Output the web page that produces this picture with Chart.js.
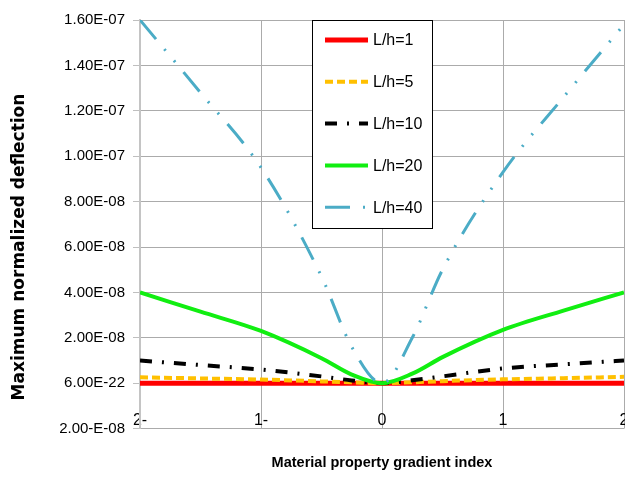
<!DOCTYPE html>
<html>
<head>
<meta charset="utf-8">
<script src="https://cdn.jsdelivr.net/npm/chart.js@4"></script>
<style>
  html, body { margin: 0; padding: 0; background: #fff; }
</style>
</head>
<body>
<canvas id="myChart" width="625" height="477"></canvas>
<script>
// gradient index n (x) and deflection of each L/h series
const indexValues = [-2, -1.5, -1, -0.5, -0.25, 0, 0.25, 0.5, 1, 1.5, 2];
const seriesNames = ['L/h=1', 'L/h=5', 'L/h=10', 'L/h=20', 'L/h=40'];
const lh1 = [0, 0, 0, 0, 0, 0, 0, 0, 0, 0, 0];
const lh5 = [0.26e-8, 0.21e-8, 0.16e-8, 0.08e-8, 0.04e-8, 0, 0.04e-8, 0.09e-8, 0.17e-8, 0.22e-8, 0.28e-8];
const lh10 = [1.0e-8, 0.8e-8, 0.6e-8, 0.3e-8, 0.12e-8, 0, 0.13e-8, 0.3e-8, 0.65e-8, 0.83e-8, 1.0e-8];
const lh20 = [4.0e-8, 3.15e-8, 2.3e-8, 1.1e-8, 0.38e-8, 0, 0.42e-8, 1.15e-8, 2.35e-8, 3.2e-8, 4.0e-8];
const lh40 = [16.0e-8, 12.8e-8, 9.5e-8, 4.7e-8, 1.6e-8, 0, 2.0e-8, 5.0e-8, 9.3e-8, 12.6e-8, 15.8e-8];

const xTickLabels = ['2-', '1-', '0', '1', '2'];
const yTickLabels = ['2.00-E-08', '6.00E-22', '2.00E-08', '4.00E-08', '6.00E-08',
  '8.00E-08', '1.00E-07', '1.20E-07', '1.40E-07', '1.60E-07'];

const sans = "'Liberation Sans', Arial, sans-serif";

const styles = [
  { color: '#ff0000', width: 5, dash: [] },
  { color: '#ffc000', width: 4, dash: [8, 4] },
  { color: '#000000', width: 4, dash: [12, 10, 2, 10] },
  { color: '#11ee11', width: 4, dash: [] },
  { color: '#4bacc6', width: 3, dash: [25, 13, 2, 13, 2, 13] }
];
const series = [lh1, lh5, lh10, lh20, lh40];

const datasets = series.map((vals, i) => ({
  label: seriesNames[i],
  data: vals.map((v, j) => ({ x: indexValues[j], y: v })),
  borderColor: styles[i].color,
  borderWidth: styles[i].width,
  borderDash: styles[i].dash,
  borderCapStyle: 'butt',
  pointRadius: 0,
  fill: false,
  cubicInterpolationMode: 'monotone',
  order: series.length - i
}));

// boxed legend inside the plot + rotated y title
const extras = {
  id: 'extras',
  afterDraw(chart) {
    const ctx = chart.ctx;
    ctx.save();
    ctx.translate(20, 247);
    ctx.rotate(-Math.PI / 2);
    ctx.fillStyle = '#000';
    ctx.font = "bold 17px 'DejaVu Sans', sans-serif";
    ctx.textAlign = 'center';
    ctx.textBaseline = 'middle';
    ctx.fillText('Maximum normalized deflection', 0, 0);
    ctx.restore();

    ctx.save();
    const bx = 312.5, by = 20.5, bw = 120, bh = 208;
    ctx.fillStyle = '#fff';
    ctx.fillRect(bx, by, bw, bh);
    ctx.strokeStyle = '#000';
    ctx.lineWidth = 1;
    ctx.strokeRect(bx, by, bw, bh);
    chart.data.datasets.forEach((ds, i) => {
      const y = 40 + i * 41.8;
      ctx.beginPath();
      ctx.strokeStyle = ds.borderColor;
      ctx.lineWidth = ds.borderWidth;
      ctx.setLineDash(ds.borderDash);
      ctx.lineCap = 'butt';
      ctx.moveTo(325, y);
      ctx.lineTo(368, y);
      ctx.stroke();
      ctx.setLineDash([]);
      ctx.fillStyle = '#000';
      ctx.font = '16px ' + sans;
      ctx.textAlign = 'left';
      ctx.textBaseline = 'middle';
      ctx.fillText(ds.label, 373, y + 1);
    });
    ctx.restore();
  }
};

new Chart(document.getElementById('myChart'), {
  type: 'line',
  data: { datasets },
  options: {
    responsive: false,
    animation: false,
    events: [],
    layout: { padding: { top: 20, right: 1, bottom: 0, left: 0 } },
    plugins: {
      legend: { display: false },
      tooltip: { enabled: false },
      title: {
        display: true,
        position: 'bottom',
        fullSize: false,
        text: 'Material property gradient index',
        color: '#000',
        font: { family: sans, size: 14.5, weight: 'bold' },
        padding: { top: 26, bottom: 5 }
      }
    },
    scales: {
      x: {
        type: 'linear',
        min: -2, max: 2,
        position: { y: -1.22e-8 },
        border: { display: false },
        grid: { color: '#ababab', borderDash: [1, 1], drawTicks: false },
        ticks: {
          stepSize: 1, padding: 0, autoSkip: false, maxRotation: 0,
          color: '#000', font: { family: sans, size: 16 },
          callback: (v, i) => xTickLabels[i]
        },
        afterFit(scale) { scale.paddingLeft = 0; scale.paddingRight = 0; }
      },
      y: {
        type: 'linear',
        min: -2e-8, max: 1.6e-7,
        border: { color: '#c4c4c4', width: 2 },
        grid: { color: '#ababab', borderDash: [1, 1], tickLength: 7, tickColor: '#bfbfbf', tickBorderDash: [] },
        ticks: {
          stepSize: 2e-8, padding: 8,
          color: '#000', font: { family: sans, size: 15 },
          callback: (v, i) => yTickLabels[i]
        },
        afterFit(scale) { scale.width = 140; }
      }
    }
  },
  plugins: [extras]
});
</script>
</body>
</html>
